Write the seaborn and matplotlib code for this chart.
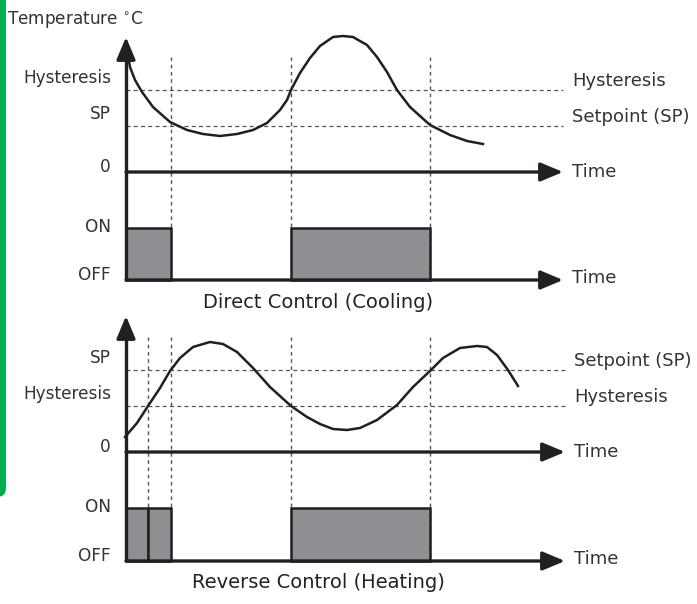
import numpy as np
import pandas as pd
import seaborn as sns
import matplotlib.pyplot as plt
from matplotlib.patches import FancyBboxPatch

# curve points (pixel-like coordinates, y grows downward)
cool_t = [127, 130, 135, 142, 153, 170, 187, 203, 220, 237, 253, 267, 280, 287,
          291, 300, 310, 320, 333, 343, 353, 367, 377, 387, 397, 410, 430, 450,
          467, 483]
cool_temp = [50, 67, 80, 92, 107, 122, 130, 134, 136, 134, 130, 123, 110, 100,
             90, 73, 58, 46, 37, 36, 37, 45, 57, 72, 90, 107, 125, 135,
             141, 144]

heat_t = [125, 137, 148, 160, 170, 180, 193, 210, 223, 237, 253, 270, 291, 307,
          320, 333, 347, 360, 377, 397, 413, 431, 443, 460, 477, 487, 497, 508,
          518]
heat_temp = [437, 423, 406, 388, 371, 358, 347, 342, 344, 352, 368, 387, 406, 417,
             424, 429, 430, 428, 420, 405, 387, 370, 358, 348, 346, 347, 355, 370,
             386]

# switching instants and on/off intervals
cool_switch = [171, 291, 430]
cool_on_start = [126, 291]
cool_on_end = [171, 430]
heat_switch = [148, 171, 291, 430]
heat_on_start = [126, 148, 291]
heat_on_end = [148, 171, 430]

# reference levels per panel
cool_levels = {"Hysteresis": 90, "Setpoint (SP)": 126}
cool_left = {"Hysteresis": 90, "SP": 126, "0": 172}
heat_levels = {"Setpoint (SP)": 370, "Hysteresis": 406}
heat_left = {"SP": 370, "Hysteresis": 406, "0": 452}

INK = "#231f20"
GRID = "#555555"
FILL = "#8f8e93"
FONT = "DejaVu Sans"
FS = 12.2

fig = plt.figure(figsize=(6.97, 6.04), dpi=100)
ax = fig.add_axes([0, 0, 1, 1])
ax.set_xlim(0, 697)
ax.set_ylim(604, 0)
ax.axis("off")

# green margin bar
ax.add_patch(FancyBboxPatch((-30, -30), 36, 527, boxstyle="round,pad=0,rounding_size=9",
                            fc="#00ad50", ec="none"))


def arrow(x0, y0, x1, y1):
    ax.annotate("", xy=(x1, y1), xytext=(x0, y0),
                arrowprops=dict(arrowstyle="-|>,head_length=0.62,head_width=0.26",
                                lw=2.4, color=INK, shrinkA=0, shrinkB=0,
                                mutation_scale=22))


def txt(x, y, s, ha="left", fs=FS):
    ax.text(x, y, s, ha=ha, va="center", fontsize=fs, color="#333333",
            family=FONT)


def panel(y_axis_top, y_zero, y_on, y_off, dot_top, x_end, levels, left,
          switch, on_start, on_end, t, temp, title, y_title):
    # dashed reference levels
    for name, y in levels.items():
        ax.plot([126, x_end], [y, y], ls=(0, (3.2, 2.6)), lw=0.9, color=GRID)
        txt(x_end + 9, y - 9, name, fs=FS + 0.8)
    for name, y in left.items():
        txt(111, y - 12 if name != "0" else y - 5, name, ha="right")
    # dotted switching instants
    for x in switch:
        ax.plot([x, x], [dot_top, y_off], ls=(0, (2.6, 2.6)), lw=1.0, color=GRID)
    # on/off bars
    for a, b in zip(on_start, on_end):
        ax.bar(a, y_on - y_off, width=b - a, bottom=y_off, align="edge",
               color=FILL, edgecolor=INK, lw=1.8, zorder=3)
    txt(111, y_on - 1, "ON", ha="right")
    txt(111, y_off - 5, "OFF", ha="right")
    # axes with arrows
    ax.plot([126, 126], [y_axis_top + 15, y_off], lw=2.4, color=INK,
            solid_capstyle="butt", zorder=4)
    arrow(126, y_axis_top + 20, 126, y_axis_top)
    arrow(126, y_zero, x_end, y_zero)
    arrow(126, y_off, x_end, y_off)
    txt(x_end + 9, y_zero, "Time", fs=FS + 0.8)
    txt(x_end + 9, y_off - 2, "Time", fs=FS + 0.8)
    # temperature curve
    df = pd.DataFrame({"t": t, "temp": temp})
    sns.lineplot(data=df, x="t", y="temp", sort=False, estimator=None,
                 color=INK, lw=1.8, ax=ax)
    ax.text(318, y_title, title, ha="center", va="center", fontsize=FS + 1.8,
            color="#222222", family=FONT)


panel(37, 172, 228, 280, 57, 563, cool_levels, cool_left, cool_switch,
      cool_on_start, cool_on_end, cool_t, cool_temp,
      "Direct Control (Cooling)", 303)
panel(316, 452, 508, 561, 337, 565, heat_levels, heat_left, heat_switch,
      heat_on_start, heat_on_end, heat_t, heat_temp,
      "Reverse Control (Heating)", 583)

ax.text(7, 19, "Temperature $^{\\circ}$C", ha="left", va="center",
        fontsize=FS, color="#333333", family=FONT)

ax.set_xlim(0, 697)
ax.set_ylim(604, 0)
ax.axis("off")
fig.savefig("out.png", dpi=100)
